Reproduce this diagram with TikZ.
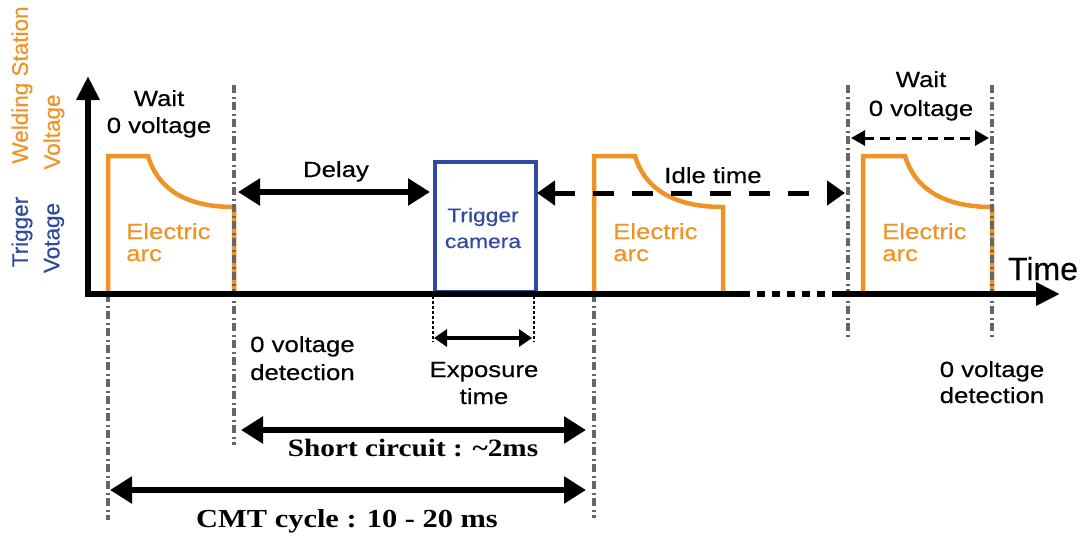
\documentclass[tikz,border=0pt]{standalone}
\usepackage{fontspec}
\setmainfont{Liberation Sans}[FakeStretch=1.17,FakeBold=0.4]
\newfontfamily\plainsans{Liberation Sans}[FakeBold=0.4]
\newfontfamily\boldserif{Liberation Serif}[FakeStretch=1.17]
\usetikzlibrary{arrows.meta}
\definecolor{arcorange}{HTML}{EF9327}
\definecolor{trigblue}{HTML}{2F4A9E}
\definecolor{guidegray}{HTML}{666666}
\begin{document}
\begin{tikzpicture}[x=1pt,y=-1pt,
  txt/.style={inner sep=0pt,anchor=base,font=\fontsize{22}{26}\selectfont},
  arctxt/.style={txt,text=arcorange,anchor=base west},
  sidetxt/.style={inner sep=0pt,rotate=90,font=\plainsans\fontsize{22.5}{26}\selectfont},
  serlabel/.style={inner sep=0pt,anchor=base,font=\boldserif\bfseries\fontsize{25}{30}\selectfont},
  axisline/.style={line width=6pt,line join=miter},
  arcline/.style={draw=arcorange,line width=4.5pt,line join=miter},
  guide/.style={draw=guidegray,line width=3.3pt,dash pattern=on 8pt off 3.5pt on 2pt off 3.5pt},
  fineguide/.style={draw=black,line width=2pt,dash pattern=on 2.5pt off 2.5pt},
  bigarrow/.style={line width=6pt,{Triangle[length=22pt,width=26pt]}-{Triangle[length=22pt,width=26pt]}},
  dasharrow/.style={line width=5pt,dash pattern=on 21pt off 18pt,{Triangle[length=18pt,width=24pt]}-{Triangle[length=18pt,width=24pt]}},
  smalldash/.style={line width=3pt,dash pattern=on 10pt off 6pt,{Triangle[length=14pt,width=15pt]}-{Triangle[length=14pt,width=15pt]}}
]
\useasboundingbox (0,0) rectangle (1083,536);

% coordinates
\coordinate (ytip) at (88,76);
\coordinate (origin) at (88,294);
\coordinate (axA) at (742,294);
\coordinate (axB) at (836,294);
\coordinate (xtip) at (1060,294);

% guide lines (dash-dot)
\coordinate (g1t) at (108,294); \coordinate (g1b) at (108,520);
\coordinate (g2t) at (234,85);  \coordinate (g2b) at (234,445);
\coordinate (g3t) at (594,294); \coordinate (g3b) at (594,518);
\coordinate (g4t) at (848,85);  \coordinate (g4b) at (848,340);
\coordinate (g5t) at (992,85);  \coordinate (g5b) at (992,340);

% arcs
\draw[arcline] (108,294) -- (108,156) -- (148,156) .. controls (157,186) and (182,207) .. (234,207) -- (234,294);
\draw[arcline] (594,294) -- (594,156) -- (635,156) .. controls (644,186) and (670,207) .. (723,207) -- (723,294);
\draw[arcline] (863,294) -- (863,156) -- (905,156) .. controls (914,186) and (940,207) .. (992,207) -- (992,294);

% trigger box
\node[draw=trigblue,line width=4.5pt,minimum width=101pt,minimum height=130pt,inner sep=0pt,anchor=south west] (trig) at (432.5,294) {};
\node[inner sep=0pt,anchor=base,text=trigblue,font=\fontsize{19.5}{22}\selectfont] (trigtxt) at (483,222) {Trigger};
\node[inner sep=0pt,anchor=base,text=trigblue,font=\fontsize{19.5}{22}\selectfont] (camtxt) at (483,248) {camera};

% guides
\draw[guide] (g1t) -- (g1b);
\draw[guide] (g2t) -- (g2b);
\draw[guide] (g3t) -- (g3b);
\draw[guide] (g4t) -- (g4b);
\draw[guide] (g5t) -- (g5b);
\coordinate (d1t) at (432.5,296); \coordinate (d1b) at (432.5,342);
\coordinate (d2t) at (533.5,296); \coordinate (d2b) at (533.5,342);
\draw[fineguide] (d1t) -- (d1b);
\draw[fineguide] (d2t) -- (d2b);

% axes
\draw[axisline,{Triangle[length=24pt,width=22pt]}-] (ytip) -- (origin) -- (axA);
\draw[line width=6pt,dash pattern=on 8pt off 7pt] (axA) -- (axB);
\draw[axisline,-{Triangle[length=24pt,width=22pt]}] (axB) -- (xtip);

% arrows
\coordinate (delL) at (238,192); \coordinate (delR) at (430,192);
\draw[bigarrow] (delL) -- (delR);
\coordinate (idL) at (537,193); \coordinate (idR) at (845,193);
\draw[dasharrow] (idL) -- (idR);
\coordinate (wL) at (851,138); \coordinate (wR) at (989,138);
\draw[smalldash] (wL) -- (wR);
\coordinate (exL) at (434,338); \coordinate (exR) at (532,338);
\draw[line width=4.5pt,{Triangle[length=13pt,width=17pt]}-{Triangle[length=13pt,width=17pt]}] (exL) -- (exR);
\coordinate (scL) at (241,430); \coordinate (scR) at (586,430);
\draw[bigarrow] (scL) -- (scR);
\coordinate (cmL) at (110,490); \coordinate (cmR) at (586,490);
\draw[bigarrow] (cmL) -- (cmR);

% texts
\node[sidetxt,text=arcorange] (ws) at (22,85) {Welding Station};
\node[sidetxt,text=arcorange] (wv) at (54,132) {Voltage};
\node[sidetxt,text=trigblue] (tt) at (22,232) {Trigger};
\node[sidetxt,text=trigblue] (tv) at (54,238) {Votage};

\node[txt] (wait1) at (159,106) {Wait};
\node[txt] (zero1) at (159,133) {0 voltage};
\node[arctxt] (el1) at (126,239) {Electric};
\node[arctxt] (ar1) at (126,261) {arc};
\node[txt] (delay) at (336,177) {Delay};
\node[txt] (idle) at (713,183) {Idle time};
\node[arctxt] (el2) at (613,239) {Electric};
\node[arctxt] (ar2) at (613,261) {arc};
\node[txt] (wait2) at (921,87) {Wait};
\node[txt] (zero2) at (921,116) {0 voltage};
\node[arctxt] (el3) at (882,239) {Electric};
\node[arctxt] (ar3) at (882,261) {arc};
\node[inner sep=0pt,anchor=base,font=\plainsans\fontsize{32}{36}\selectfont] (time) at (1043,280) {Time};

\node[txt,anchor=base west] (zd1) at (250,352) {0 voltage};
\node[txt,anchor=base west] (zd2) at (250,380) {detection};
\node[txt] (exp1) at (484,377) {Exposure};
\node[txt] (exp2) at (484,404) {time};
\node[txt] (zr1) at (992,377) {0 voltage};
\node[txt] (zr2) at (992,403) {detection};

\node[serlabel] (sc) at (413,456) {Short circuit : \textasciitilde2ms};
\node[serlabel,font=\boldserif\bfseries\fontsize{26}{30}\selectfont] (cmt) at (347,527) {CMT cycle : 10 - 20 ms};
\end{tikzpicture}
\end{document}
